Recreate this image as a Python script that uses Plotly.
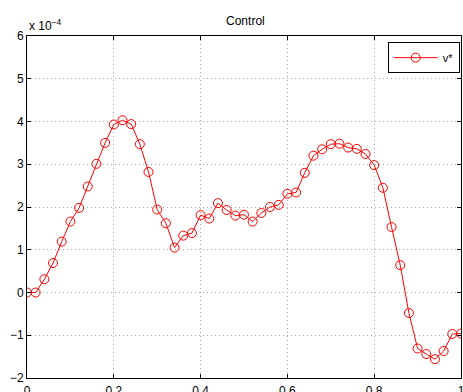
import plotly.graph_objects as go

x_vals = [round(0.02 * i, 2) for i in range(51)]
v_star = [0.00, 0.00, 0.31, 0.69, 1.19, 1.66, 1.98, 2.48, 3.01, 3.50,
          3.93, 4.03, 3.94, 3.47, 2.82, 1.94, 1.62, 1.05, 1.33, 1.39,
          1.81, 1.73, 2.09, 1.93, 1.80, 1.82, 1.66, 1.86, 2.00, 2.05,
          2.31, 2.34, 2.80, 3.20, 3.35, 3.47, 3.48, 3.39, 3.36, 3.24,
          2.98, 2.45, 1.53, 0.64, -0.48, -1.31, -1.44, -1.56, -1.37, -0.97,
          -0.96]
scale = 1e-4
y_vals = [v * scale for v in v_star]

x_ticks = [0, 0.2, 0.4, 0.6, 0.8, 1]
x_ticktext = ["0", "0.2", "0.4", "0.6", "0.8", "1"]
y_ticks_units = [-2, -1, 0, 1, 2, 3, 4, 5, 6]
y_ticktext = ["\u22122", "\u22121", "0", "1", "2", "3", "4", "5", "6"]

font_family = "Liberation Sans, Arial, sans-serif"

fig = go.Figure()
fig.add_trace(go.Scatter(
    x=x_vals, y=y_vals, mode="lines+markers", name="v*",
    line=dict(color="#ff0000", width=1),
    marker=dict(symbol="circle-open", size=9, color="#ff0000", line=dict(width=1, color="#ff0000")),
))

axis_common = dict(
    showline=True, linecolor="black", linewidth=1, mirror="ticks",
    ticks="inside", ticklen=4, tickcolor="black",
    showgrid=True, gridcolor="#a8a8a8", griddash="1px,3px", gridwidth=1,
    zeroline=False, tickfont=dict(family=font_family, size=12, color="black"),
    ticklabeloverflow="allow", automargin=False,
)

fig.update_xaxes(range=[0, 1], tickvals=x_ticks, ticktext=x_ticktext,
                 ticklabelstandoff=2, **axis_common)
fig.update_yaxes(range=[-2 * scale, 6 * scale], tickvals=[t * scale for t in y_ticks_units],
                 ticktext=y_ticktext, ticklabelstandoff=0, **axis_common)

fig.update_layout(
    width=463, height=392,
    margin=dict(l=27, r=2, t=36, b=14, autoexpand=False),
    paper_bgcolor="white", plot_bgcolor="white",
    font=dict(family=font_family, size=11, color="black"),
    title=dict(text="Control", x=0.53, xanchor="center", y=0.948, yanchor="middle",
               font=dict(family=font_family, size=12, color="black")),
    showlegend=True,
    legend=dict(x=0.997, y=0.982, xanchor="right", yanchor="top",
                bgcolor="white", bordercolor="black", borderwidth=1,
                font=dict(family=font_family, size=11, color="black"),
                itemwidth=44, tracegroupgap=0),
    annotations=[dict(text="x 10<sup>\u22124</sup>", xref="paper", yref="paper",
                      x=0.0, y=1.0, xanchor="left", yanchor="bottom", yshift=1,
                      showarrow=False, font=dict(family=font_family, size=12, color="black"))],
)

fig.write_html("out.html")
